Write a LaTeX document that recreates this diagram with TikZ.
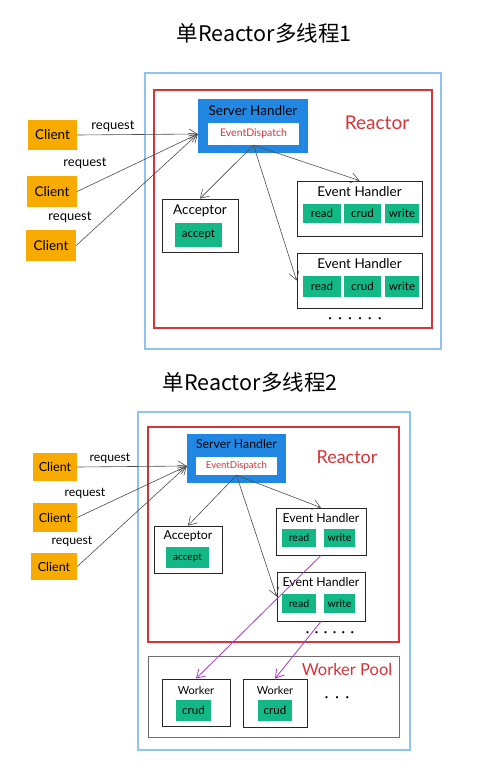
\documentclass[tikz,border=0pt]{standalone}
\usepackage{fontspec}
\setmainfont{Lato}
\newfontfamily\cjkfont{Noto Sans CJK SC}
\usetikzlibrary{positioning,arrows.meta}
\definecolor{clientorange}{HTML}{F7AA00}
\definecolor{taskgreen}{HTML}{14B886}
\definecolor{serverblue}{HTML}{2287E3}
\definecolor{frameblue}{HTML}{8EC3F2}
\definecolor{reactorred}{HTML}{D3353B}
\definecolor{workpurple}{HTML}{A33DC0}
\definecolor{poolgray}{HTML}{6E6E6E}
\newcommand{\fsz}[1]{\fontsize{#1}{#1}\selectfont}

\begin{document}
\begin{tikzpicture}[x=1pt,y=-1pt,
title/.style={font=\cjkfont\fsz{21.5}},
frame/.style={rectangle,draw=frameblue,line width=1.2pt,inner sep=0pt},
reactor/.style={rectangle,draw=reactorred,line width=2.2pt,inner sep=0pt},
pool/.style={rectangle,draw=poolgray,line width=1pt,inner sep=0pt},
redtext/.style={text=reactorred},
client/.style={rectangle,fill=clientorange,inner sep=0pt},
server/.style={rectangle,fill=serverblue,inner sep=0pt},
dispatch/.style={rectangle,fill=white,inner sep=0pt,text=reactorred},
handler/.style={rectangle,draw=black!85,line width=0.8pt,fill=white,inner sep=0pt},
task/.style={rectangle,fill=taskgreen,inner sep=0pt},
dotrow/.style={font=\fsz{6}},
paths/.style={draw=black!70,line width=0.6pt,-{Straight Barb[length=8pt,width=10pt]}},
workpath/.style={paths,draw=workpurple,line width=0.8pt}
]
\useasboundingbox (0,0) rectangle (481,774);

%%%%% first picture
\node[title] (title1) at (264,33) {单Reactor多线程1};

%create frames
\node[frame, minimum width=296pt, minimum height=276pt] (outer1) at (293,211) {};
\node[reactor, minimum width=278pt, minimum height=238pt] (react1) at (293,209) {};
\node[redtext, font=\fsz{19}] (reactlbl1) at (377,123) {Reactor};

%server handler
\node[server, minimum width=110pt, minimum height=54pt] (server1) at (253,126) {};
\node[font=\fsz{13.5}] (srvtitle1) at (253,111) {Server Handler};
\node[dispatch, minimum width=91pt, minimum height=22pt, font=\fsz{10.5}] (disp1) at (253.5,134) {EventDispatch};

%acceptor
\node[handler, minimum width=76pt, minimum height=53pt] (acc1) at (200,225.5) {};
\node[font=\fsz{13.5}] (acctitle1) at (200,211) {Acceptor};
\node[task, minimum width=47pt, minimum height=24pt, font=\fsz{11.5}] (accept1) at (198.5,235) {accept};

%event handlers
\node[handler, minimum width=125pt, minimum height=55pt] (eha1) at (359.5,208.5) {};
\node[font=\fsz{13.5}] (ehatitle1) at (359.5,192) {Event Handler};
\node[task, minimum width=38pt, minimum height=19pt, font=\fsz{11.5}] (reada1) at (322,213.5) {read};
\node[task, minimum width=37pt, minimum height=19pt, font=\fsz{11.5}] (cruda1) at (362.5,213.5) {crud};
\node[task, minimum width=34pt, minimum height=19pt, font=\fsz{11.5}] (writea1) at (402,213.5) {write};

\node[handler, minimum width=125pt, minimum height=55pt] (ehb1) at (359.5,280.5) {};
\node[font=\fsz{13.5}] (ehbtitle1) at (359.5,264) {Event Handler};
\node[task, minimum width=38pt, minimum height=21pt, font=\fsz{11.5}] (readb1) at (322,286.5) {read};
\node[task, minimum width=37pt, minimum height=21pt, font=\fsz{11.5}] (crudb1) at (362.5,286.5) {crud};
\node[task, minimum width=34pt, minimum height=21pt, font=\fsz{11.5}] (writeb1) at (402,286.5) {write};
\node[dotrow] (dots1) at (355,319) {\textbullet\hspace{6.5pt}\textbullet\hspace{6.5pt}\textbullet\hspace{6.5pt}\textbullet\hspace{6.5pt}\textbullet\hspace{6.5pt}\textbullet};

%clients
\node[client, minimum width=49pt, minimum height=30pt, font=\fsz{13.5}] (ca1) at (52.5,135) {Client};
\node[client, minimum width=50pt, minimum height=31pt, font=\fsz{13.5}] (cb1) at (52,191.5) {Client};
\node[client, minimum width=50pt, minimum height=31pt, font=\fsz{13.5}] (cc1) at (51,245.5) {Client};
\node[font=\fsz{13}] (reqa1) at (113,126) {request};
\node[font=\fsz{13}] (reqb1) at (85,163) {request};
\node[font=\fsz{13}] (reqc1) at (70,217) {request};

%draw paths
\draw[paths] (ca1.east) -- (server1.west |- disp1);
\draw[paths] (cb1.east) -- (server1.west |- disp1);
\draw[paths] (cc1.east) -- (server1.west |- disp1);

\draw[paths] (disp1.south) -- (acc1.north);
\draw[paths] (disp1.south) -- (eha1.north);
\draw[paths] (disp1.south) -- (ehb1.west);

%%%%% second picture
\node[title] (title2) at (250,382) {单Reactor多线程2};

%create frames
\node[frame, minimum width=272pt, minimum height=338pt] (outer2) at (274,581) {};
\node[reactor, minimum width=251pt, minimum height=215pt] (react2) at (273.5,534.5) {};
\node[redtext, font=\fsz{18}] (reactlbl2) at (347,457) {Reactor};
\node[pool, minimum width=251pt, minimum height=81pt] (pool2) at (273.5,696.5) {};
\node[redtext, font=\fsz{16.5}] (poollbl2) at (347,669) {Worker Pool};

%server handler
\node[server, minimum width=99pt, minimum height=49pt] (server2) at (236.5,458.5) {};
\node[font=\fsz{12.3}] (srvtitle2) at (236.5,444) {Server Handler};
\node[dispatch, minimum width=81pt, minimum height=18pt, font=\fsz{9.6}] (disp2) at (236.5,466) {EventDispatch};

%acceptor
\node[handler, minimum width=68pt, minimum height=47pt] (acc2) at (188,549.5) {};
\node[font=\fsz{12.3}] (acctitle2) at (188,536) {Acceptor};
\node[task, minimum width=43pt, minimum height=21pt, font=\fsz{10}] (accept2) at (187.5,557.5) {accept};

%event handlers
\node[handler, minimum width=90pt, minimum height=47pt] (eha2) at (321,531.5) {};
\node[font=\fsz{12.3}] (ehatitle2) at (321,518) {Event Handler};
\node[task, minimum width=34pt, minimum height=18pt, font=\fsz{10.5}] (reada2) at (299,538) {read};
\node[task, minimum width=31pt, minimum height=18pt, font=\fsz{10.5}] (writea2) at (339.5,538) {write};

\node[handler, minimum width=88pt, minimum height=49pt] (ehb2) at (321,596.5) {};
\node[font=\fsz{12.3}] (ehbtitle2) at (321,582) {Event Handler};
\node[task, minimum width=34pt, minimum height=19pt, font=\fsz{10.5}] (readb2) at (299,603.5) {read};
\node[task, minimum width=31pt, minimum height=19pt, font=\fsz{10.5}] (writeb2) at (339.5,603.5) {write};
\node[dotrow] (dots2) at (330,633) {\textbullet\hspace{5.5pt}\textbullet\hspace{5.5pt}\textbullet\hspace{5.5pt}\textbullet\hspace{5.5pt}\textbullet\hspace{5.5pt}\textbullet};

%workers
\node[handler, minimum width=68pt, minimum height=47pt] (wa2) at (196,702.5) {};
\node[font=\fsz{11}] (watitle2) at (196,690) {Worker};
\node[task, minimum width=35pt, minimum height=21pt, font=\fsz{11.5}] (cruda2) at (193.5,710.5) {crud};
\node[handler, minimum width=64pt, minimum height=48pt] (wb2) at (275,703) {};
\node[font=\fsz{11}] (wbtitle2) at (275,690) {Worker};
\node[task, minimum width=34pt, minimum height=21pt, font=\fsz{11.5}] (crudb2) at (275,710.5) {crud};
\node[dotrow] (dots3) at (337,698) {\textbullet\hspace{7pt}\textbullet\hspace{7pt}\textbullet};

%clients
\node[client, minimum width=44pt, minimum height=28pt, font=\fsz{12.5}] (ca2) at (55,467) {Client};
\node[client, minimum width=44pt, minimum height=29pt, font=\fsz{12.5}] (cb2) at (55,517.5) {Client};
\node[client, minimum width=46pt, minimum height=27pt, font=\fsz{12.5}] (cc2) at (54,566.5) {Client};
\node[font=\fsz{12.3}] (reqa2) at (110,458) {request};
\node[font=\fsz{12.3}] (reqb2) at (85,493) {request};
\node[font=\fsz{12.3}] (reqc2) at (72,541) {request};

%draw paths
\draw[paths] (ca2.east) -- (server2.west |- disp2);
\draw[paths] (cb2.east) -- (server2.west |- disp2);
\draw[paths] (cc2.east) -- (server2.west |- disp2);

\draw[paths] (disp2.south) -- (acc2.north);
\draw[paths] (disp2.south) -- (eha2.north);
\draw[paths] (disp2.south) -- (ehb2.west);

%handlers to workers
\draw[workpath] (eha2.south) -- (wa2.north);
\draw[workpath] (ehb2.south) -- (wb2.north);

\end{tikzpicture}
\end{document}
